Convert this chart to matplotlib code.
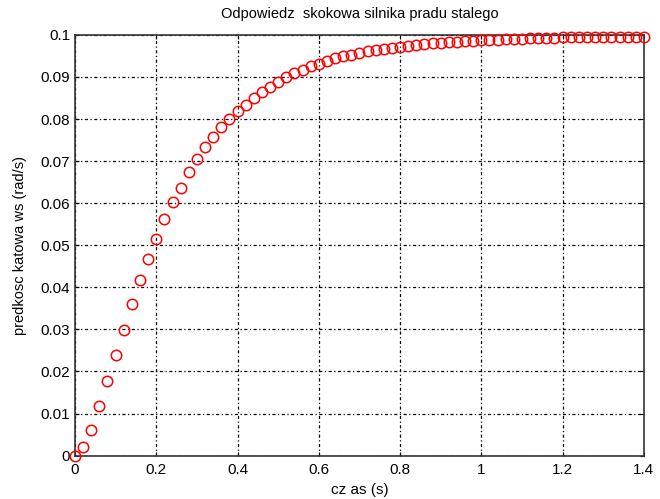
import matplotlib
matplotlib.use("Agg")
import matplotlib.pyplot as plt
import numpy as np

plt.rcParams['font.family'] = ['Liberation Sans', 'DejaVu Sans']

t = [0.00, 0.02, 0.04, 0.06, 0.08, 0.10, 0.12, 0.14, 0.16, 0.18,
     0.20, 0.22, 0.24, 0.26, 0.28, 0.30, 0.32, 0.34, 0.36, 0.38,
     0.40, 0.42, 0.44, 0.46, 0.48, 0.50, 0.52, 0.54, 0.56, 0.58,
     0.60, 0.62, 0.64, 0.66, 0.68, 0.70, 0.72, 0.74, 0.76, 0.78,
     0.80, 0.82, 0.84, 0.86, 0.88, 0.90, 0.92, 0.94, 0.96, 0.98,
     1.00, 1.02, 1.04, 1.06, 1.08, 1.10, 1.12, 1.14, 1.16, 1.18,
     1.20, 1.22, 1.24, 1.26, 1.28, 1.30, 1.32, 1.34, 1.36, 1.38, 1.40]
ws = [0.0000, 0.0021, 0.0062, 0.0117, 0.0178, 0.0239, 0.0299, 0.0361, 0.0417, 0.0467,
      0.0516, 0.0562, 0.0602, 0.0637, 0.0673, 0.0704, 0.0733, 0.0757, 0.0780, 0.0800,
      0.0818, 0.0834, 0.0850, 0.0864, 0.0877, 0.0889, 0.0899, 0.0909, 0.0917, 0.0925,
      0.0932, 0.0938, 0.0944, 0.0949, 0.0953, 0.0957, 0.0961, 0.0964, 0.0967, 0.0970,
      0.0972, 0.0974, 0.0976, 0.0978, 0.0980, 0.0981, 0.0983, 0.0984, 0.0985, 0.0986,
      0.0987, 0.0988, 0.0989, 0.0990, 0.0991, 0.0991, 0.0992, 0.0992, 0.0993, 0.0993,
      0.0994, 0.0994, 0.0994, 0.0995, 0.0995, 0.0995, 0.0995, 0.0996, 0.0996, 0.0996, 0.0996]

xticks = [0, 0.2, 0.4, 0.6, 0.8, 1.0, 1.2, 1.4]
xticklabels = ["0", "0.2", "0.4", "0.6", "0.8", "1", "1.2", "1.4"]
yticks = [0, 0.01, 0.02, 0.03, 0.04, 0.05, 0.06, 0.07, 0.08, 0.09, 0.1]
yticklabels = ["0", "0.01", "0.02", "0.03", "0.04", "0.05", "0.06", "0.07", "0.08", "0.09", "0.1"]

fig = plt.figure(figsize=(6.6, 4.99), dpi=100)
ax = fig.add_axes([0.1136, 0.087, 0.862, 0.843])

ax.plot(t, ws, linestyle='none', marker='o', markersize=7.5, markerfacecolor='none',
        markeredgecolor='red', markeredgewidth=1.1, clip_on=False, zorder=3)

ax.set_xlim(0, 1.4)
ax.set_ylim(0, 0.1)
ax.set_xticks(xticks)
ax.set_xticklabels(xticklabels)
ax.set_yticks(yticks)
ax.set_yticklabels(yticklabels)
ax.tick_params(direction='in', top=True, right=True, length=3, labelsize=11, colors='black')
ax.tick_params(axis='x', pad=5)
ax.grid(True, color='black', linestyle=(0, (2.5, 2, 1, 2)), linewidth=0.9)
for s in ax.spines.values():
    s.set_linewidth(1.2)
    s.set_color('#333333')

ax.set_title("Odpowiedz  skokowa silnika pradu stalego", fontsize=10.5, pad=12)
ax.set_xlabel("cz as (s)", fontsize=11, labelpad=5)
ax.set_ylabel("predkosc katowa ws (rad/s)", fontsize=10.5, labelpad=10)

fig.savefig("out.png", dpi=100)
